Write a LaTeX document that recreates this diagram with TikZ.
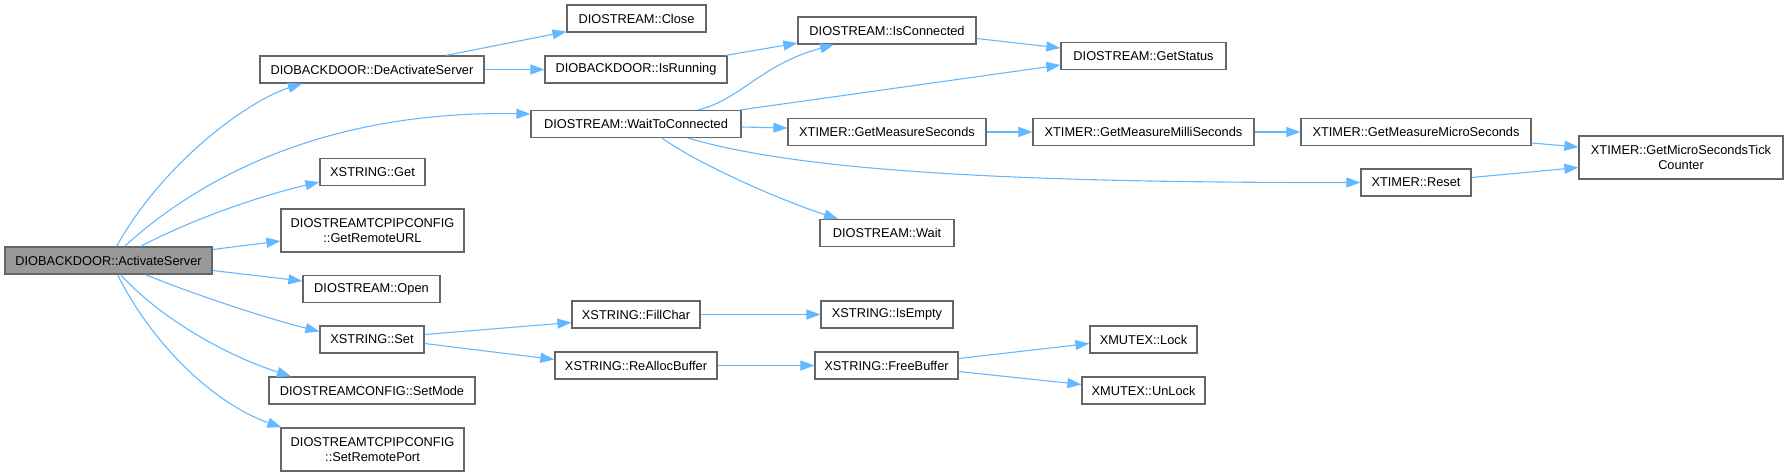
\documentclass[tikz,border=0pt]{standalone}
\usepackage{fontspec}
\setmainfont{Liberation Sans}
\usetikzlibrary{arrows.meta}
\definecolor{edgeblue}{HTML}{63B8FF}
\definecolor{boxborder}{HTML}{666666}
\definecolor{rootfill}{HTML}{999999}
\tikzset{
  fn/.style={draw=boxborder, fill=white, line width=1.2bp, inner sep=0pt, minimum height=27bp,
    font=\fontsize{12.8bp}{15bp}\selectfont, align=center},
  fn2/.style={fn, minimum height=43bp},
  rootfn/.style={fn, fill=rootfill},
  call/.style={draw=edgeblue, line width=1.1bp, -{Triangle[length=14bp,width=10bp]}}
}
\begin{document}
\begin{tikzpicture}[x=1bp,y=-1bp]
\useasboundingbox (0,0) rectangle (1788,476);
% nodes
\node[rootfn, minimum width=207bp] (as) at (108.5,260.5) {DIOBACKDOOR::ActivateServer};
\node[fn, minimum width=224bp] (deact) at (372,69.5) {DIOBACKDOOR::DeActivateServer};
\node[fn, minimum width=139bp] (close) at (636.5,18.5) {DIOSTREAM::Close};
\node[fn, minimum width=182bp] (isrun) at (636,69.5) {DIOBACKDOOR::IsRunning};
\node[fn, minimum width=210bp] (wtc) at (636,124) {DIOSTREAM::WaitToConnected};
\node[fn, minimum width=178bp] (isconn) at (887,30.5) {DIOSTREAM::IsConnected};
\node[fn, minimum width=165bp] (getstatus) at (1143.5,56) {DIOSTREAM::GetStatus};
\node[fn, minimum width=198bp] (gms) at (887,132) {XTIMER::GetMeasureSeconds};
\node[fn, minimum width=221bp] (gmms) at (1143.5,132) {XTIMER::GetMeasureMilliSeconds};
\node[fn, minimum width=230bp] (gmus) at (1416,132) {XTIMER::GetMeasureMicroSeconds};
\node[fn2, minimum width=204bp] (tick) at (1681,157.5) {XTIMER::GetMicroSecondsTick\\Counter};
\node[fn, minimum width=110bp] (reset) at (1416,182.5) {XTIMER::Reset};
\node[fn, minimum width=134bp] (wait) at (887,233) {DIOSTREAM::Wait};
\node[fn, minimum width=105bp] (get) at (372.5,172) {XSTRING::Get};
\node[fn2, minimum width=183bp] (url) at (372.5,230.5) {DIOSTREAMTCPIPCONFIG\\::GetRemoteURL};
\node[fn, minimum width=137bp] (open) at (371.5,289) {DIOSTREAM::Open};
\node[fn, minimum width=104bp] (set) at (372,339.5) {XSTRING::Set};
\node[fn, minimum width=206bp] (setmode) at (372,390.5) {DIOSTREAMCONFIG::SetMode};
\node[fn2, minimum width=183bp] (port) at (372.5,449.5) {DIOSTREAMTCPIPCONFIG\\::SetRemotePort};
\node[fn, minimum width=128bp] (fill) at (636,314.5) {XSTRING::FillChar};
\node[fn, minimum width=132bp] (isempty) at (887,314.5) {XSTRING::IsEmpty};
\node[fn, minimum width=162bp] (realloc) at (636,365.5) {XSTRING::ReAllocBuffer};
\node[fn, minimum width=143bp] (free) at (886.5,365.5) {XSTRING::FreeBuffer};
\node[fn, minimum width=107bp] (lock) at (1143.5,339.5) {XMUTEX::Lock};
\node[fn, minimum width=123bp] (unlock) at (1143.5,390.5) {XMUTEX::UnLock};
% edges
\draw[call] ([xshift=8bp]as.north) .. controls (165,160) and (250,100) .. ([xshift=-70bp]deact.south);
\draw[call] ([xshift=16bp]as.north) .. controls (195,182) and (320,110) .. ([yshift=10bp]wtc.west);
\draw[call] ([xshift=32bp]as.north) .. controls (195,218) and (260,196) .. ([yshift=-10bp]get.west);
\draw[call] ([yshift=11bp]as.east) -- ([yshift=-10.5bp]url.west);
\draw[call] ([yshift=-10bp]as.east) -- ([yshift=8bp]open.west);
\draw[call] ([xshift=37bp]as.south) .. controls (190,293) and (265,318) .. ([yshift=8bp]set.west);
\draw[call] ([xshift=12bp]as.south) .. controls (160,318) and (225,355) .. ([xshift=-81bp]setmode.north);
\draw[call] ([xshift=9bp]as.south) .. controls (150,340) and (210,402) .. ([xshift=1bp]port.north west);
\draw[call] ([xshift=74bp]deact.north) -- ([yshift=1bp]close.south west);
\draw[call] (deact.east) -- (isrun.west);
\draw[call] ([xshift=-2bp]isrun.north east) -- ([yshift=1.5bp]isconn.south west);
\draw[call] ([xshift=62bp]wtc.north) .. controls (740,100) and (760,65) .. ([xshift=-53bp]isconn.south);
\draw[call] ([xshift=-1bp]wtc.north east) -- ([yshift=-9bp]getstatus.west);
\draw[call] ([yshift=-8bp]isconn.east) -- ([yshift=8bp]getstatus.west);
\draw[call] ([yshift=-3bp]wtc.east) -- ([yshift=4bp]gms.west);
\draw[call] ([xshift=52bp]wtc.south) .. controls (790,168) and (980,183) .. (reset.west);
\draw[call] ([xshift=26bp]wtc.south) .. controls (700,165) and (780,200) .. ([xshift=-49bp]wait.north);
\draw[call] (gms.east) -- (gmms.west);
\draw[call] (gmms.east) -- (gmus.west);
\draw[call] ([yshift=-11bp]gmus.east) -- ([yshift=10.5bp]tick.west);
\draw[call] ([yshift=5bp]reset.east) -- ([yshift=-10bp]tick.west);
\draw[call] ([yshift=5bp]set.east) -- ([yshift=-8bp]fill.west);
\draw[call] ([yshift=-4bp]set.east) -- ([yshift=6bp]realloc.west);
\draw[call] (fill.east) -- (isempty.west);
\draw[call] (realloc.east) -- (free.west);
\draw[call] ([yshift=7bp]free.east) -- ([yshift=-4bp]lock.west);
\draw[call] ([yshift=-6bp]free.east) -- ([yshift=6bp]unlock.west);
\end{tikzpicture}
\end{document}
